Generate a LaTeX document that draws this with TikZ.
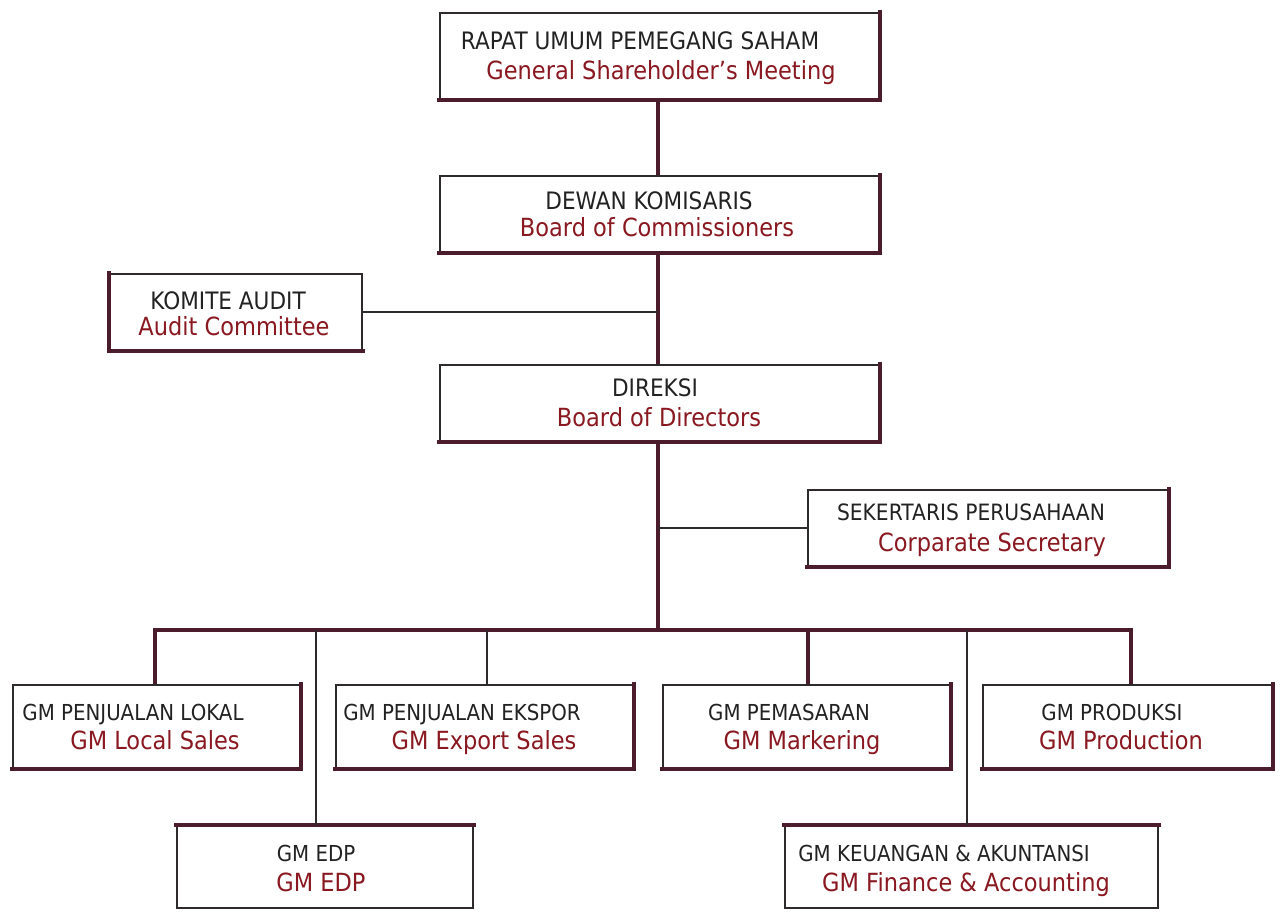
\documentclass[tikz,border=0pt]{standalone}
\usepackage{fontspec}
\setmainfont{DejaVu Sans}[FakeStretch=0.9]
\definecolor{txtblack}{HTML}{222222}
\definecolor{txtred}{HTML}{8A1820}
\definecolor{edge}{HTML}{2E2A2C}
\definecolor{maroon}{HTML}{4A1C2C}
\tikzset{
  box/.style={draw=edge, line width=1.8pt, fill=white, inner sep=0pt},
  heavyedge/.style={draw=maroon, line width=4pt, line cap=rect},
  trunk/.style={draw=maroon, line width=4pt},
  branch/.style={draw=edge, line width=2pt},
  tone/.style={inner sep=0pt, anchor=base, text=txtblack, font=\fontsize{22}{24}\selectfont},
  tonebig/.style={tone, font=\fontsize{24}{26}\selectfont},
  ttwo/.style={inner sep=0pt, anchor=base, text=txtred, font=\fontsize{25}{28}\selectfont},
}
\begin{document}
\begin{tikzpicture}[x=1pt,y=-1pt]
\useasboundingbox (0,0) rectangle (1282,913);
% boxes
\node[box, minimum width=439pt, minimum height=86pt] (rups) at (659.5,56) {};
\node[box, minimum width=439pt, minimum height=76pt] (dewan) at (659.5,214) {};
\node[box, minimum width=252pt, minimum height=76pt] (audit) at (236,312) {};
\node[box, minimum width=439pt, minimum height=76pt] (direksi) at (659.5,403) {};
\node[box, minimum width=360pt, minimum height=76pt] (sek) at (988,528) {};
\node[box, minimum width=287pt, minimum height=83pt] (local) at (156.5,726.5) {};
\node[box, minimum width=297pt, minimum height=83pt] (export) at (484.5,726.5) {};
\node[box, minimum width=287pt, minimum height=83pt] (pem) at (806.5,726.5) {};
\node[box, minimum width=289pt, minimum height=83pt] (prod) at (1127.5,726.5) {};
\node[box, minimum width=296pt, minimum height=82pt] (edp) at (325,867) {};
\node[box, minimum width=373pt, minimum height=82pt] (keu) at (971.5,867) {};
% heavy right and bottom edges
\foreach \b in {rups,dewan,direksi,sek,local,export,pem,prod}
  \draw[heavyedge] (\b.north east) -- (\b.south east) -- (\b.south west);
\foreach \b in {edp,keu}
  \draw[heavyedge] (\b.north west) -- (\b.north east);
\draw[heavyedge] (audit.north west) -- (audit.south west) -- (audit.south east);
% bus coordinates
\coordinate (busc) at (658,630);
% trunk
\draw[trunk] (rups.south -| busc) -- (dewan.north -| busc);
\draw[trunk] (dewan.south -| busc) -- (direksi.north -| busc);
\draw[trunk] (direksi.south -| busc) -- (busc);
\draw[trunk] ([xshift=-1.5pt]local.north) |- (busc) -| ([xshift=3.5pt]prod.north);
\draw[trunk] ([xshift=1.5pt]pem.north) -- ([xshift=1.5pt]pem.north |- busc);
% side branches
\draw[branch] (audit.east) -- (audit.east -| busc);
\draw[branch] (sek.west) -- (sek.west -| busc);
\draw[branch] ([xshift=2.5pt]export.north) -- ([xshift=2.5pt]export.north |- busc);
\draw[branch] ([xshift=-9pt]edp.north) -- ([xshift=-9pt]edp.north |- busc);
\draw[branch] ([xshift=-4.5pt]keu.north) -- ([xshift=-4.5pt]keu.north |- busc);
% texts
\node[tonebig] (rups1) at (640,49) {RAPAT UMUM PEMEGANG SAHAM};
\node[ttwo] (rups2) at (661,79) {General Shareholder’s Meeting};
\node[tonebig] (dewan1) at (649,209) {DEWAN KOMISARIS};
\node[ttwo] (dewan2) at (657,236) {Board of Commissioners};
\node[tonebig] (audit1) at (228,309) {KOMITE AUDIT};
\node[ttwo] (audit2) at (234,335) {Audit Committee};
\node[tonebig] (direksi1) at (655,396) {DIREKSI};
\node[ttwo] (direksi2) at (659,426) {Board of Directors};
\node[tone, font=\fontsize{22.5}{24}\selectfont] (sek1) at (971,520) {SEKERTARIS PERUSAHAAN};
\node[ttwo] (sek2) at (992,551) {Corparate Secretary};
\node[tone] (local1) at (133,720) {GM PENJUALAN LOKAL};
\node[ttwo] (local2) at (155,749) {GM Local Sales};
\node[tone] (export1) at (462,720) {GM PENJUALAN EKSPOR};
\node[ttwo] (export2) at (484,749) {GM Export Sales};
\node[tone] (pem1) at (789,720) {GM PEMASARAN};
\node[ttwo] (pem2) at (802,749) {GM Markering};
\node[tone] (prod1) at (1112,720) {GM PRODUKSI};
\node[ttwo] (prod2) at (1121,749) {GM Production};
\node[tone] (edp1) at (316,861) {GM EDP};
\node[ttwo] (edp2) at (321,891) {GM EDP};
\node[tone] (keu1) at (944,861) {GM KEUANGAN \& AKUNTANSI};
\node[ttwo] (keu2) at (966,891) {GM Finance \& Accounting};
\end{tikzpicture}
\end{document}
